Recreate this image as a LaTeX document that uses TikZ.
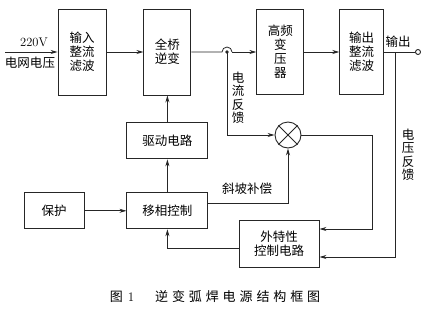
\documentclass[tikz,border=0pt]{standalone}
\usepackage{fontspec}
\usetikzlibrary{positioning,arrows.meta}
\newfontfamily\cjk{Noto Sans CJK SC}
\newfontfamily\capfont[LetterSpace=30]{Noto Sans CJK SC}
\begin{document}
\begin{tikzpicture}[x=1pt,y=-1pt,
  blk/.style={rectangle,draw=black!85,line width=0.9pt,
              font=\cjk\fontsize{12.5}{14}\selectfont,align=center,inner sep=1pt},
  arr/.style={-{Stealth[length=7pt,width=4pt]},line width=0.8pt,black!85},
  lbl/.style={font=\cjk\fontsize{12.5}{13.5}\selectfont,align=center,inner sep=1pt},
  >=Stealth
]
\useasboundingbox (0,0) rectangle (430,308);
\node[blk,minimum width=48pt,minimum height=86pt] (inrec) at (82,52)
  {输入\\整流\\滤波};
\node[blk,minimum width=47pt,minimum height=86pt,right=37pt of inrec] (inv)
  {全桥\\逆变};
\node[blk,minimum width=47pt,minimum height=85pt,right=65pt of inv] (hft)
  {高频\\变\\压\\器};
\node[blk,minimum width=44pt,minimum height=85pt,right=35pt of hft] (outrec)
  {输出\\整流\\滤波};
\node[blk,minimum width=81pt,minimum height=36pt,below=27pt of inv] (drv) {驱动电路};
\node[blk,minimum width=81pt,minimum height=36pt,below=33pt of drv] (ps) {移相控制};
\node[blk,minimum width=60pt,minimum height=36pt,left=42pt of ps] (prot) {保护};
\node[blk,minimum width=80pt,minimum height=47pt] (ext) at (279,243.5)
  {外特性\\控制电路};
\node[circle,draw=black!85,line width=0.9pt,minimum size=26pt,inner sep=0pt] (sum) at (288,135) {};
\draw[line width=0.9pt,black!85] (sum.north west)--(sum.south east) (sum.north east)--(sum.south west);
\node[circle,draw=black!85,line width=0.9pt,minimum size=5pt,inner sep=0pt] (out) at (418,52) {};
\coordinate (ac) at (5,52);
\coordinate (tap) at (227,52);
\coordinate (vtap) at (395,52);
\coordinate (ibend) at (372,229);
\coordinate (vbend) at (395,257);
\draw[arr] (ac) -- (inrec.west);
\draw[arr] (inrec) -- (inv);
\draw[line width=0.8pt,black!85] (inv.east) -- ([xshift=-5pt]tap) arc (180:0:5pt);
\draw[arr] ([xshift=5pt]tap) -- (hft.west);
\fill[black!85] (tap) circle (1.8pt);
\draw[arr] (hft) -- (outrec);
\draw[line width=0.8pt,black!85] (outrec.east) -- (out.west);
\draw[arr] (tap) |- (sum.west);
\draw[arr] (sum.east) -| (ibend) -- ([yshift=14.5pt]ext.east);
\draw[arr] (vtap) -- (vbend) -- ([yshift=-13.5pt]ext.east);
\draw[arr] ([yshift=7pt]ps.east) -| (sum.south);
\draw[arr] ([yshift=-4.5pt]ext.west) -| (ps.south);
\draw[arr] (prot) -- (ps);
\draw[arr] (ps) -- (drv);
\draw[arr] (drv) -- (inv);
\node[font=\rmfamily\fontsize{12.5}{14}\selectfont,inner sep=0pt] (v220) at (34,42) {220V};
\node[lbl] (grid) at (30,63) {电网电压};
\node[lbl] (outl) at (398,42) {输出};
\node[lbl] (ifb) at (238,98) {电\\流\\反\\馈};
\node[lbl] (vfb) at (408,155) {电\\压\\反\\馈};
\node[lbl] (ramp) at (247,189) {斜坡补偿};
\node[font=\capfont\fontsize{13}{15}\selectfont,inner sep=0pt] (cap) at (215,297)
  {图\hspace{0.4em}{\rmfamily 1}\hspace{1.6em}逆变弧焊电源结构框图};
\end{tikzpicture}
\end{document}
